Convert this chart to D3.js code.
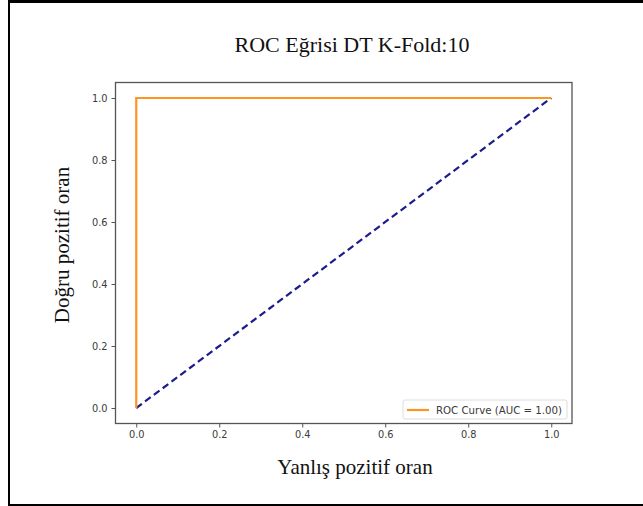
<!DOCTYPE html>
<html>
<head>
<meta charset="utf-8">
<script src="https://cdn.jsdelivr.net/npm/d3@7"></script>
<style>
  body { margin: 0; background: #fff; }
  svg { display: block; }
</style>
</head>
<body>
<script>
// ROC data (decision tree, 10-fold)
const fpr = [0, 0, 1];
const tpr = [0, 1, 1];
const chance = [0, 1];
const xTicks = [0, 0.2, 0.4, 0.6, 0.8, 1.0];
const yTicks = [0, 0.2, 0.4, 0.6, 0.8, 1.0];
const title = "ROC Eğrisi DT K-Fold:10";
const xLabel = "Yanlış pozitif oran";
const yLabel = "Doğru pozitif oran";
const legendLabel = "ROC Curve (AUC = 1.00)";

const W = 643, H = 506;
const svg = d3.select("body").append("svg")
  .attr("width", W)
  .attr("height", H);

// outer frame (top, left, bottom only)
svg.append("line").attr("x1", 8).attr("x2", W).attr("y1", 1.5).attr("y2", 1.5)
  .attr("stroke", "#000").attr("stroke-width", 3);
svg.append("line").attr("x1", 9).attr("x2", 9).attr("y1", 0).attr("y2", H)
  .attr("stroke", "#000").attr("stroke-width", 2);
svg.append("line").attr("x1", 8).attr("x2", W).attr("y1", 505).attr("y2", 505)
  .attr("stroke", "#000").attr("stroke-width", 2);

const x = d3.scaleLinear().domain([-0.05, 1.05]).range([115.5, 572]);
const y = d3.scaleLinear().domain([-0.05, 1.05]).range([423.5, 82.5]);

// axes
const xAxis = svg.append("g")
  .attr("transform", "translate(0," + y(-0.05) + ")")
  .call(d3.axisBottom(x).tickValues(xTicks).tickFormat(d3.format(".1f")).tickSize(4).tickPadding(4));
const yAxis = svg.append("g")
  .attr("transform", "translate(" + x(-0.05) + ",0)")
  .call(d3.axisLeft(y).tickValues(yTicks).tickFormat(d3.format(".1f")).tickSize(4).tickPadding(4));

[xAxis, yAxis].forEach(g => {
  g.select(".domain").remove();
  g.selectAll(".tick line").attr("stroke", "#555");
  g.selectAll(".tick text")
    .attr("fill", "#3a3a3a")
    .style("font-family", "DejaVu Sans")
    .style("font-size", "9.8px");
});

// frame around the plot
svg.append("rect")
  .attr("x", x(-0.05)).attr("y", y(1.05))
  .attr("width", x(1.05) - x(-0.05))
  .attr("height", y(-0.05) - y(1.05))
  .attr("fill", "none")
  .attr("stroke", "#555")
  .attr("stroke-width", 1.3);

const line = d3.line().x(d => x(d[0])).y(d => y(d[1]));

// chance diagonal
svg.append("path")
  .datum(chance.map(v => [v, v]))
  .attr("d", line)
  .attr("fill", "none")
  .attr("stroke", "#1c1c8c")
  .attr("stroke-width", 2.2)
  .attr("stroke-dasharray", "7,4");

// ROC curve
svg.append("path")
  .datum(fpr.map((v, i) => [v, tpr[i]]))
  .attr("d", line)
  .attr("fill", "none")
  .attr("stroke", "#ff9420")
  .attr("stroke-width", 2.2);

// legend
const lg = svg.append("g").attr("transform", "translate(403,400)");
lg.append("rect")
  .attr("width", 164).attr("height", 19).attr("rx", 2)
  .attr("fill", "#fff").attr("stroke", "#ddd");
lg.append("line")
  .attr("x1", 4).attr("x2", 26).attr("y1", 10).attr("y2", 10)
  .attr("stroke", "#ff9420").attr("stroke-width", 2.2);
lg.append("text")
  .attr("x", 33).attr("y", 13.5)
  .attr("fill", "#3a3a3a")
  .style("font-family", "DejaVu Sans")
  .style("font-size", "10.2px")
  .text(legendLabel);

// titles
svg.append("text")
  .attr("x", 352).attr("y", 52)
  .attr("text-anchor", "middle")
  .style("font-family", "Liberation Serif")
  .style("font-size", "22px")
  .attr("fill", "#111")
  .text(title);

svg.append("text")
  .attr("x", 355).attr("y", 474)
  .attr("text-anchor", "middle")
  .style("font-family", "Liberation Serif")
  .style("font-size", "21px")
  .attr("fill", "#111")
  .text(xLabel);

svg.append("text")
  .attr("transform", "translate(69,245) rotate(-90)")
  .attr("text-anchor", "middle")
  .style("font-family", "Liberation Serif")
  .style("font-size", "21px")
  .attr("fill", "#111")
  .text(yLabel);
</script>
</body>
</html>
